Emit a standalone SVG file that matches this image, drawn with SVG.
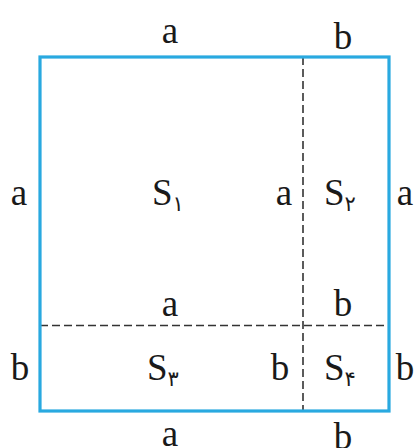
<svg xmlns="http://www.w3.org/2000/svg" width="418" height="448" viewBox="0 0 418 448">
<style>
.t{font-family:"Liberation Serif","DejaVu Serif",serif;font-size:37px;fill:#1a1a1a}
.m{text-anchor:middle}
.sub{font-family:"DejaVu Sans","Noto Sans",sans-serif;font-size:21px}
.dash{stroke:#333;stroke-width:1.6;stroke-dasharray:8 4;fill:none}
</style>
<rect width="418" height="448" fill="#fff"/>
<g id="connectors">
<line class="dash" x1="303" y1="57" x2="303" y2="411"/>
<line class="dash" x1="40" y1="325.5" x2="389" y2="325.5"/>
</g>
<g id="square">
<rect x="40" y="57" width="349" height="354" fill="none" stroke="#29A9E0" stroke-width="3.2"/>
</g>
<g id="labels-top">
<text class="t m" x="170" y="43">a</text>
<text class="t m" x="343" y="49">b</text>
</g>
<g id="labels-mid">
<text class="t m" x="19" y="205">a</text>
<text class="t m" x="284" y="205">a</text>
<text class="t m" x="405" y="205">a</text>
<text class="t m" x="170" y="316">a</text>
<text class="t m" x="343" y="316">b</text>
<text class="t m" x="20" y="380">b</text>
<text class="t m" x="280" y="380">b</text>
<text class="t m" x="405" y="380">b</text>
</g>
<g id="labels-bottom">
<text class="t m" x="170" y="446">a</text>
<text class="t m" x="343" y="449">b</text>
</g>
<g id="S1"><text class="t" x="152" y="205">S<tspan class="sub" dy="6">۱</tspan></text></g>
<g id="S2"><text class="t" x="324" y="205">S<tspan class="sub" dy="6">۲</tspan></text></g>
<g id="S3"><text class="t" x="147" y="380">S<tspan class="sub" dy="6">۳</tspan></text></g>
<g id="S4"><text class="t" x="324" y="380">S<tspan class="sub" dy="6">۴</tspan></text></g>
</svg>
